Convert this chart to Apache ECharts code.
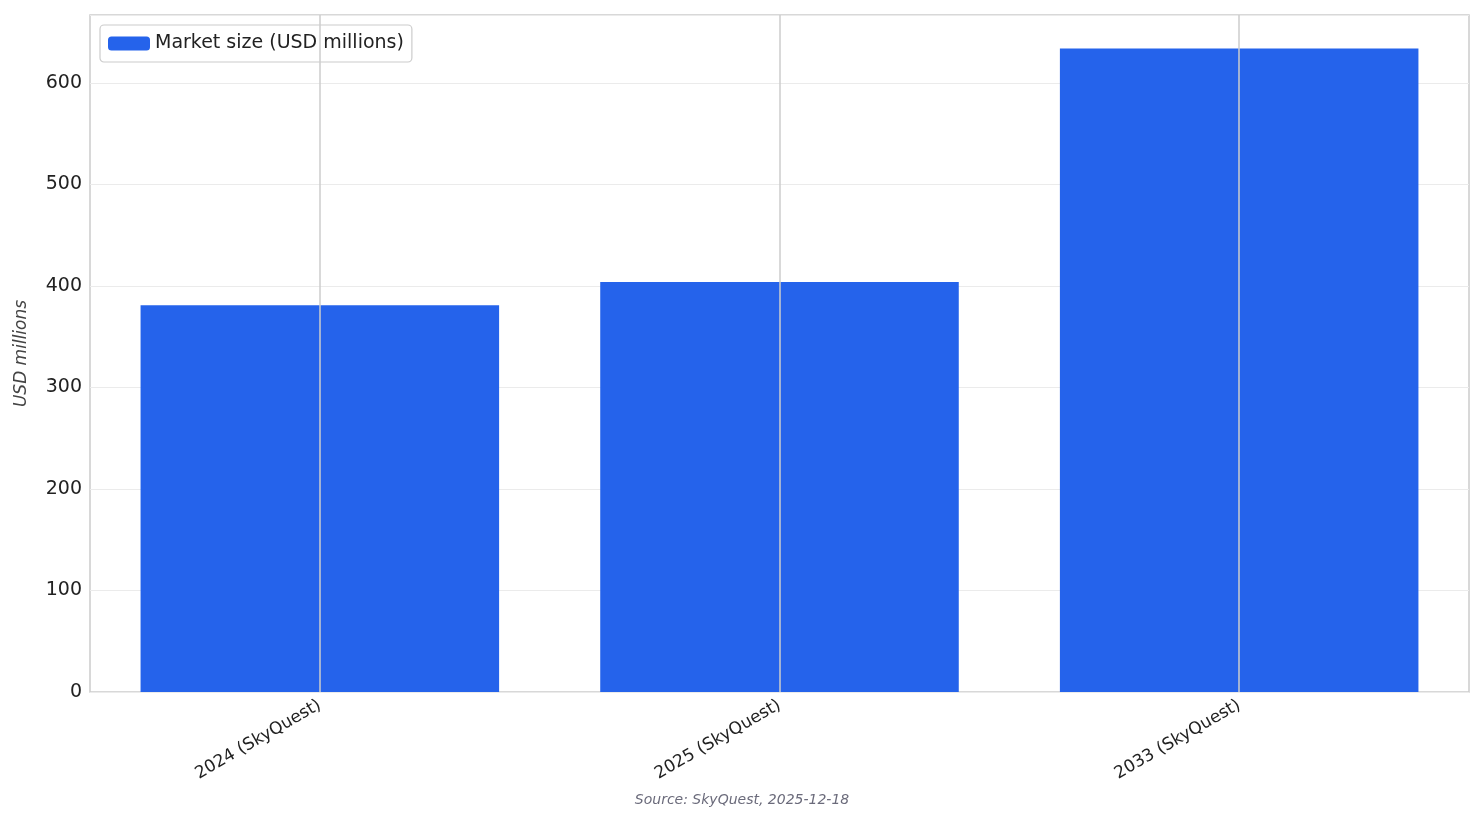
<!DOCTYPE html>
<html><head><meta charset="utf-8">
<script src="https://cdn.jsdelivr.net/npm/echarts@6/dist/echarts.min.js"></script>
<style>html,body{margin:0;padding:0;background:#fff}#c{width:1484px;height:824px}</style>
</head><body><div id="c"></div>
<script>
const categories = ['2024 (SkyQuest)', '2025 (SkyQuest)', '2033 (SkyQuest)'];
const values = [381, 404, 634];
const seriesName = 'Market size (USD millions)';
const yTicks = [0, 100, 200, 300, 400, 500, 600];

const chart = echarts.init(document.getElementById('c'));
chart.setOption({
  animation: false,
  backgroundColor: '#fff',
  textStyle: { fontFamily: 'DejaVu Sans' },
  grid: { left: 90, right: 15, top: 15, bottom: 132, containLabel: false, show: true, borderColor: '#cccccc', borderWidth: 1.5 },
  legend: {
    left: 100, top: 25, itemWidth: 42, itemHeight: 14, padding: [9, 8, 9, 8],
    borderColor: '#cccccc', borderWidth: 1.2, borderRadius: 4,
    textStyle: { fontSize: 19, color: '#222', fontFamily: 'DejaVu Sans' },
    data: [seriesName]
  },
  xAxis: {
    type: 'category', data: categories,
    axisLine: { show: false }, axisTick: { show: false },
    axisLabel: { rotate: 30, fontSize: 17, color: '#222', margin: 12, fontFamily: 'DejaVu Sans' },
    splitLine: { show: false }
  },
  yAxis: {
    type: 'value', min: 0, max: 667, interval: 100,
    name: 'USD millions', nameLocation: 'middle', nameGap: 60,
    nameTextStyle: { fontSize: 17, fontStyle: 'italic', color: '#444' },
    axisLine: { show: false }, axisTick: { show: false },
    axisLabel: { fontSize: 19, color: '#222', showMaxLabel: false,
      formatter: v => yTicks.includes(v) ? String(v) : '' },
    splitLine: { lineStyle: { color: '#ebebeb', width: 1.2 } }
  },
  series: [
    { type: 'line', data: [], z: 1, silent: true,
      markLine: { symbol: 'none', silent: true, label: { show: false },
        lineStyle: { color: '#cccccc', type: 'solid', width: 1.5 },
        data: categories.map(c => ({ xAxis: c })) } },
    { name: seriesName, type: 'bar', data: values, barWidth: '78%', z: 3,
      itemStyle: { color: '#2563eb' } }
  ],
  graphic: [{ type: 'text', left: 'center', top: 793,
    style: { text: 'Source: SkyQuest, 2025-12-18', fontSize: 14, fontStyle: 'italic', fill: '#6b6b7b', fontFamily: 'DejaVu Sans' } }]
});
</script></body></html>
